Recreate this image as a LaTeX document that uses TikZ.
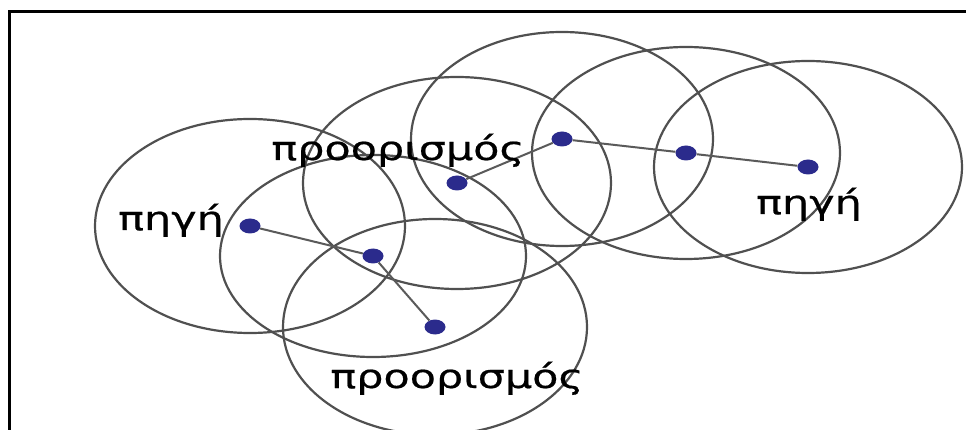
\documentclass[tikz,border=0pt]{standalone}
\usepackage{fontspec}
\usetikzlibrary{shapes.geometric}
\newfontfamily\lblfont[FakeStretch=1.3,FakeBold=0.6]{DejaVu Sans}
\definecolor{dotblue}{HTML}{2B2B8C}
\definecolor{ringgray}{HTML}{505050}
\definecolor{linkgray}{HTML}{5A5A5A}
\tikzset{
  dotnode/.style={ellipse, fill=dotblue, minimum width=21pt, minimum height=15pt, inner sep=0pt},
  ring/.style={draw=ringgray, line width=2.2pt},
  linkline/.style={draw=linkgray, line width=2pt},
  lbl/.style={font=\lblfont\fontsize{33}{33}\selectfont, text=black, inner sep=0pt, anchor=base},
  frameline/.style={draw=black, line width=3pt}
}
\begin{document}
\begin{tikzpicture}[x=1pt,y=-1pt]
\useasboundingbox (0,0) rectangle (966,430);
\fill[white] (0,0) rectangle (966,430);
\begin{scope}
\clip (0,0) rectangle (966,430);
% dots
\node[dotnode] (A) at (250,226) {};
\node[dotnode] (B) at (373,256) {};
\node[dotnode] (C) at (435,327) {};
\node[dotnode] (D) at (457,183) {};
\node[dotnode] (E) at (562,139) {};
\node[dotnode] (F) at (686,153) {};
\node[dotnode] (G) at (808,167) {};
% ranges
\draw[ring] (A.center) ellipse [x radius=155pt, y radius=107pt];
\draw[ring] (B.center) ellipse [x radius=153pt, y radius=101pt];
\draw[ring] (C.center) ellipse [x radius=152pt, y radius=108pt];
\draw[ring] (D.center) ellipse [x radius=154pt, y radius=106pt];
\draw[ring] (E.center) ellipse [x radius=151pt, y radius=107pt];
\draw[ring] (F.center) ellipse [x radius=154pt, y radius=106pt];
\draw[ring] (G.center) ellipse [x radius=154pt, y radius=106pt];
% links
\draw[linkline] (A) -- (B);
\draw[linkline] (B) -- (C);
\draw[linkline] (D) -- (E);
\draw[linkline] (E) -- (F);
\draw[linkline] (F) -- (G);
% labels
\node[lbl] (srcL) at (171,230) {πηγή};
\node[lbl] (dstT) at (398,160) {προορισμός};
\node[lbl] (dstB) at (457,388) {προορισμός};
\node[lbl] (srcR) at (809,214) {πηγή};
% frame
\draw[frameline] (9.5,430) -- (9.5,11.5) -- (966,11.5);
\end{scope}
\end{tikzpicture}
\end{document}
